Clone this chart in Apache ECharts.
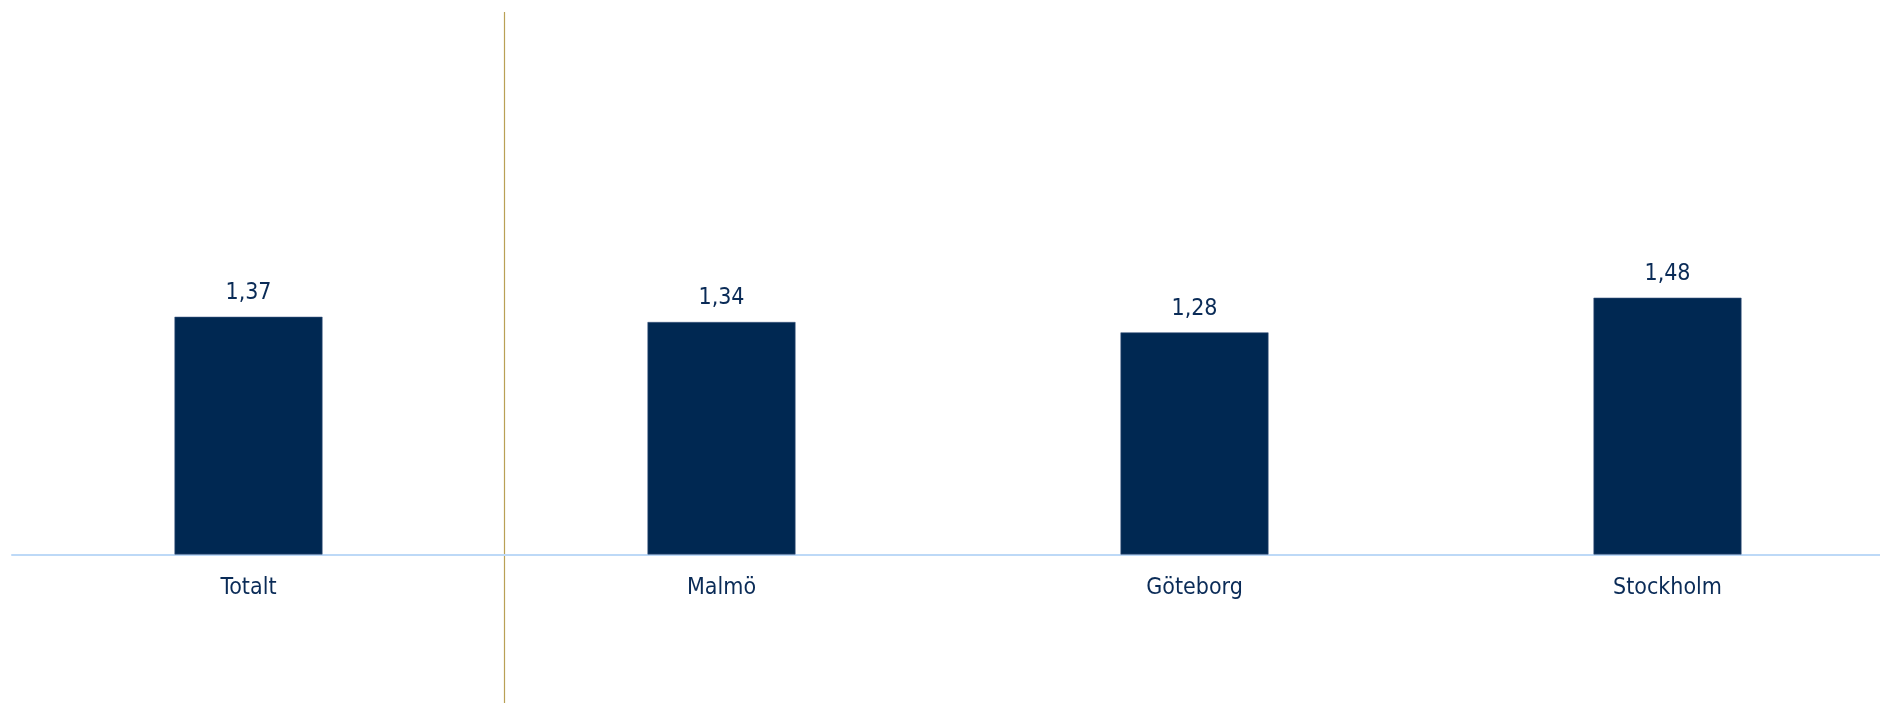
<!DOCTYPE html>
<html>
<head>
<meta charset="utf-8">
<script src="https://cdn.jsdelivr.net/npm/echarts@6/dist/echarts.min.js"></script>
<style>html,body{margin:0;padding:0;background:#fff}#c{width:1880px;height:703px}</style>
</head>
<body>
<div id="c"></div>
<script>
var categories = ['Totalt', 'Malmö', 'Göteborg', 'Stockholm'];
var values = [1.37, 1.34, 1.28, 1.48];

var FONT = '"DejaVu Sans Condensed", "DejaVu Sans", sans-serif';
var TEXT = '#0a2b57';

var chart = echarts.init(document.getElementById('c'));
chart.setOption({
  animation: false,
  backgroundColor: '#ffffff',
  grid: { left: 12, width: 1892, top: 34, bottom: 148.5, containLabel: false, outerBoundsMode: 'none' },
  xAxis: {
    type: 'category',
    data: categories,
    axisLine: { show: true, lineStyle: { color: '#BDD9F7', width: 2 } },
    axisTick: { show: false },
    axisLabel: { color: TEXT, fontFamily: FONT, fontSize: 23, margin: 22 },
    splitLine: { show: false }
  },
  yAxis: {
    type: 'value',
    min: 0,
    max: 3,
    show: false,
    splitLine: { show: false }
  },
  series: [{
    type: 'bar',
    data: values,
    barWidth: 148,
    itemStyle: { color: '#002852', borderColor: '#3a5680', borderWidth: 0.6 },
    label: {
      show: true,
      position: 'top',
      distance: 12,
      color: TEXT,
      fontFamily: FONT,
      fontSize: 23,
      formatter: function (p) { return p.value.toFixed(2).replace('.', ','); }
    }
  }],
  graphic: [{
    type: 'line',
    shape: { x1: 504.5, y1: 12, x2: 504.5, y2: 703 },
    style: { stroke: '#B9A055', lineWidth: 1.2 },
    silent: true
  }]
});
</script>
</body>
</html>
